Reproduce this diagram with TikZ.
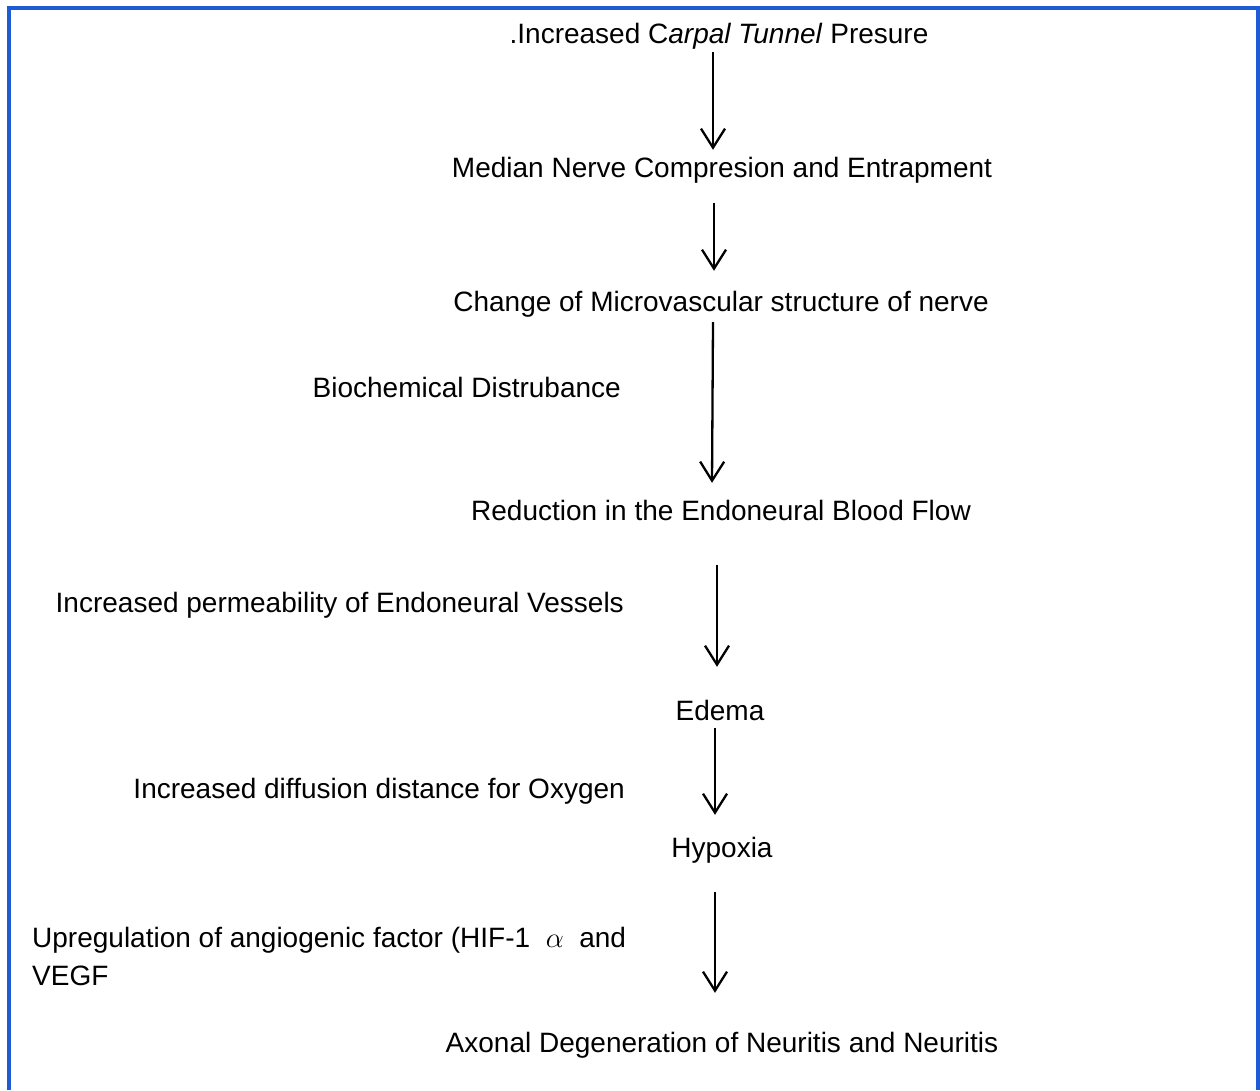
\documentclass[tikz,border=0pt]{standalone}
\usepackage{fontspec}
\setmainfont{Liberation Sans}
\usetikzlibrary{arrows.meta}
\definecolor{frameblue}{RGB}{30,92,214}

\begin{document}
\begin{tikzpicture}[x=1pt,y=-1pt,
  every node/.style={inner sep=0pt,font=\fontsize{28}{38}\selectfont},
  stage/.style={anchor=base,text height=20pt,text depth=6pt},
  cause/.style={anchor=base east},
  flow/.style={line width=2.3pt,-{Straight Barb[length=19pt,width=24pt,line width=2.3pt]}}]
\useasboundingbox (0,0) rectangle (1260,1090);
\draw[frameblue, line width=3.5pt] (9,1090) -- (9,8) -- (1258,8) -- (1258,1090);
\path node[stage] (pres) at (719,43) {.Increased C\textit{arpal Tunnel} Presure};
\path node[stage] (comp) at (722,177) {Median Nerve Compresion and Entrapment};
\path node[stage] (micro) at (721,311) {Change of Microvascular structure of nerve};
\path node[cause] (bio) at (621,397) {Biochemical Distrubance};
\path node[stage] (flow) at (721,520) {Reduction in the Endoneural Blood Flow};
\path node[cause] (perm) at (624,612) {Increased permeability of Endoneural Vessels};
\path node[stage] (edema) at (720,720) {Edema};
\path node[cause] (diff) at (625,798) {Increased diffusion distance for Oxygen};
\path node[stage] (hypo) at (722,857) {Hypoxia};
\path node[anchor=north west,align=left] (upreg) at (32,927) {Upregulation of angiogenic factor (HIF-1\ \ \scalebox{1.15}{$\alpha$}\ \ and\\VEGF};
\path node[stage] (axon) at (722,1052) {Axonal Degeneration of Neuritis and Neuritis};
\draw[flow] ([xshift=-6pt,yshift=-3pt]pres.south) -- ([xshift=-9pt,yshift=7pt]comp.north);
\draw[flow] ([xshift=-8pt,yshift=-20pt]comp.south) -- ([xshift=-7pt,yshift=20pt]micro.north);
\draw[flow] ([xshift=-8pt,yshift=-5pt]micro.south) -- ([xshift=-9pt,yshift=17pt]flow.north);
\draw[flow] ([xshift=-4pt,yshift=-39pt]flow.south) -- ([xshift=-3pt,yshift=33pt]edema.north);
\draw[flow] ([xshift=-5pt,yshift=-2pt]edema.south) -- ([xshift=-7pt,yshift=22pt]hypo.north);
\draw[flow] ([xshift=-7pt,yshift=-29pt]hypo.south) -- ([xshift=-7pt,yshift=39pt]axon.north);
\end{tikzpicture}
\end{document}
